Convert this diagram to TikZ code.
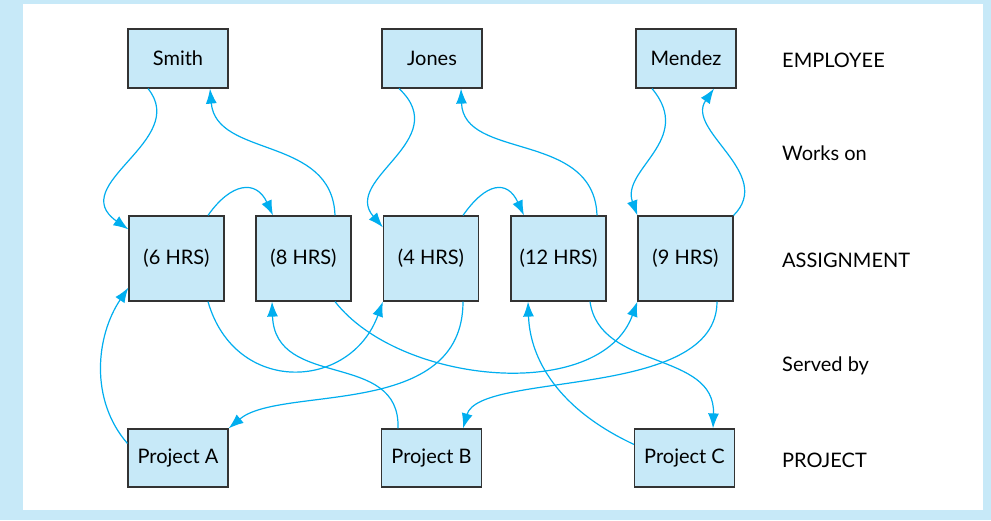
\documentclass[tikz,border=0pt]{standalone}
\usepackage{fontspec}
\setmainfont{Lato}
\usetikzlibrary{arrows.meta}
\definecolor{boxblue}{RGB}{199,233,248}
\definecolor{linkblue}{RGB}{0,174,239}

\begin{document}
\begin{tikzpicture}[x=1pt,y=1pt,font=\fontsize{20}{24}\selectfont]
\tikzset{
% Boxes for the three entity rows
entity box/.style={draw=black!80,line width=1.2pt,fill=boxblue,inner sep=0,minimum width=100pt,minimum height=59pt},
assign box/.style={entity box,minimum width=95pt,minimum height=85pt},
% Row captions on the right
caption/.style={anchor=west,inner sep=0},
% Curved links between the rows
link/.style={draw=linkblue,line width=1.2pt,-{Latex[length=15pt,width=11pt]}}
}
% Frame
\fill[boxblue] (0,0) rectangle (991,520);
\fill[white] (23,10) rectangle (983,516);
% Employees
\node(smith)[entity box] at (178,461.5) {Smith};
\node(jones)[entity box] at (432,461.5) {Jones};
\node(mendez)[entity box] at (686,461.5) {Mendez};
% Assignments
\node(asg6)[assign box] at (176.5,261.5) {(6 HRS)};
\node(asg8)[assign box] at (303.5,261.5) {(8 HRS)};
\node(asg4)[assign box] at (431,261.5) {(4 HRS)};
\node(asg12)[assign box] at (558.5,261.5) {(12 HRS)};
\node(asg9)[assign box] at (685.5,261.5) {(9 HRS)};
% Projects
\node(projA)[entity box,minimum height=58pt] at (178,62) {Project A};
\node(projB)[entity box,minimum height=58pt] at (431.5,62) {Project B};
\node(projC)[entity box,minimum height=58pt] at (684.5,62) {Project C};
% Row captions
\node(employee)[caption] at (782,460) {EMPLOYEE};
\node(workson)[caption] at (782,367) {Works on};
\node(assignment)[caption] at (782,260) {ASSIGNMENT};
\node(servedby)[caption] at (782,154) {Served by};
\node(project)[caption] at (782,60) {PROJECT};
% Works on
\draw[link] ([xshift=-30pt]smith.south) to[out=-51,in=145,out distance=67pt,in distance=78pt] ([yshift=-14pt]asg6.north west);
\draw[link] ([xshift=31.5pt]asg8.north) to[out=92,in=-85,out distance=80pt,in distance=70pt] ([xshift=32pt]smith.south);
\draw[link] ([xshift=31.5pt]asg6.north) to[out=55,in=115,out distance=40pt,in distance=40pt] ([xshift=-30.5pt]asg8.north);
\draw[link] ([xshift=-33pt]jones.south) to[out=-43,in=131,out distance=76pt,in distance=64pt] ([yshift=-12pt]asg4.north west);
\draw[link] ([xshift=38.5pt]asg12.north) to[out=92,in=-88,out distance=85pt,in distance=72pt] ([xshift=29pt]jones.south);
\draw[link] ([xshift=32pt]asg4.north) to[out=55,in=115,out distance=40pt,in distance=40pt] ([xshift=-34.5pt]asg12.north);
\draw[link] ([xshift=-34pt]mendez.south) to[out=-50,in=110,out distance=67pt,in distance=49pt] (asg9.north west);
\draw[link] (asg9.north east) to[out=45,in=-125,out distance=59pt,in distance=51pt] ([xshift=28pt]mendez.south);
% Served by
\draw[link] ([yshift=-15pt]projA.north west) to[out=131,in=-124,out distance=58pt,in distance=58pt] ([yshift=14pt]asg6.south west);
\draw[link] ([xshift=31.5pt]asg6.south) to[out=-74,in=-110,out distance=98pt,in distance=95pt] (asg4.south west);
\draw[link] ([xshift=-33.5pt]projB.north) to[out=88,in=-88,out distance=79pt,in distance=89pt] ([xshift=-31.5pt]asg8.south);
\draw[link] ([xshift=32pt]asg4.south) to[out=-90,in=40,out distance=119pt,in distance=68pt] (projA.north east);
\draw[link] ([xshift=31.5pt]asg8.south) to[out=-52,in=-110,out distance=106pt,in distance=108pt] (asg9.south west);
\draw[link] ([xshift=31.5pt]asg9.south) to[out=-90,in=74,out distance=99pt,in distance=60pt] ([xshift=31.5pt]projB.north);
\draw[link] ([xshift=31.5pt]asg12.south) to[out=-82,in=88,out distance=70pt,in distance=78pt] ([xshift=28.5pt]projC.north);
\draw[link] ([yshift=-16pt]projC.north west) to[out=155,in=-88,out distance=83pt,in distance=58pt] ([xshift=-30.5pt]asg12.south);
\end{tikzpicture}
\end{document}
